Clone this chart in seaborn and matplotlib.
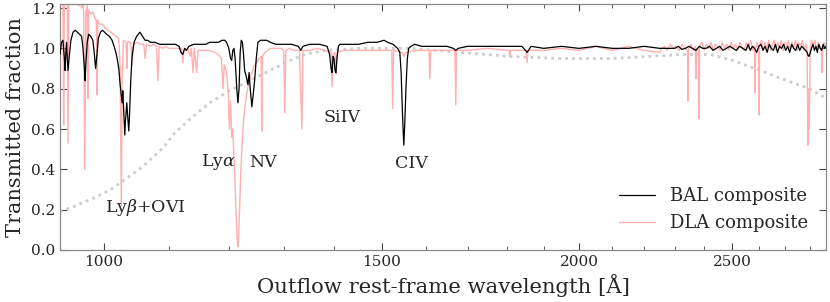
import numpy as np
import pandas as pd
import matplotlib
matplotlib.use("Agg")
import matplotlib.pyplot as plt
import matplotlib.ticker as mticker
import seaborn as sns

# ---------------- data ----------------
bal_wave = [938, 940, 942, 944, 945, 946, 947, 948, 949, 951, 953, 956, 959, 962, 965, 968,
            970, 972, 973, 974, 976, 978, 981, 984, 986, 988, 990, 992, 995, 998, 1001, 1004,
            1008, 1012, 1016, 1019, 1022, 1024, 1026, 1027, 1028, 1029, 1031, 1032, 1034, 1035,
            1037, 1038, 1040, 1042, 1045, 1049, 1054, 1058, 1062, 1066, 1070, 1077, 1085, 1095,
            1101, 1110, 1116, 1119, 1122, 1125, 1128, 1132, 1140, 1150, 1160, 1167, 1175, 1182,
            1188, 1193, 1196, 1200, 1203, 1205, 1207, 1209, 1211, 1214, 1216, 1218, 1220, 1222,
            1224, 1226, 1228, 1231, 1234, 1236, 1238, 1241, 1243, 1246, 1249, 1252, 1257, 1262,
            1268, 1275, 1285, 1293, 1302, 1315, 1328, 1333, 1337, 1350, 1370, 1385, 1390, 1393,
            1395, 1397, 1399, 1401, 1403, 1405, 1408, 1411, 1430, 1450, 1470, 1490, 1505, 1513,
            1525, 1535, 1540, 1543, 1545, 1547, 1549, 1551, 1554, 1557, 1560, 1565, 1574, 1590,
            1620, 1650, 1665, 1671, 1677, 1700, 1750, 1800, 1840, 1850, 1854, 1858, 1865, 1900,
            1950, 2000, 2050, 2100, 2150, 2200, 2250,
            2300, 2312, 2324, 2336, 2348, 2360, 2372, 2384, 2396, 2408, 2420, 2432, 2444, 2456,
            2468, 2480, 2492, 2504, 2516, 2528, 2540, 2552, 2560, 2568, 2576, 2584, 2592, 2600,
            2608, 2616, 2624, 2632, 2640, 2648, 2656, 2664, 2672, 2680, 2688, 2696, 2704, 2712,
            2720, 2728, 2736, 2744, 2752, 2760, 2768, 2776, 2784, 2790, 2794, 2798, 2802, 2808,
            2814, 2820, 2826, 2832, 2838, 2844, 2850, 2856, 2862, 2868]
bal_flux = [0.97, 1.03, 1.04, 0.95, 0.89, 0.98, 1.03, 0.95, 0.89, 0.97, 1.04, 1.08, 1.09, 1.08,
            1.07, 1.06, 1.00, 0.90, 0.84, 0.92, 1.03, 1.07, 1.06, 1.04, 0.98, 0.90, 0.97, 1.05,
            1.08, 1.09, 1.08, 1.07, 1.06, 1.04, 1.00, 0.96, 0.90, 0.82, 0.76, 0.73, 0.79, 0.72,
            0.57, 0.64, 0.73, 0.68, 0.59, 0.66, 0.84, 0.96, 1.03, 1.06, 1.08, 1.06, 1.04, 1.04,
            1.03, 1.03, 1.02, 1.02, 1.02, 1.02, 1.01, 0.98, 0.97, 1.00, 0.99, 1.01, 1.02, 1.02,
            1.02, 1.03, 1.03, 1.03, 1.04, 1.04, 1.03, 1.00, 0.95, 0.94, 0.99, 1.00, 0.95, 0.80,
            0.73, 0.80, 0.98, 1.04, 1.03, 0.97, 0.89, 0.86, 0.82, 0.88, 0.80, 0.71, 0.76, 0.84,
            0.95, 1.03, 1.04, 1.04, 1.04, 1.03, 1.02, 1.02, 1.02, 1.02, 1.01, 0.99, 1.01, 1.02,
            1.02, 1.01, 0.97, 0.90, 0.88, 0.96, 0.95, 0.89, 0.88, 0.95, 1.01, 1.02, 1.02, 1.02,
            1.03, 1.03, 1.04, 1.03, 1.02, 1.00, 0.98, 0.88, 0.74, 0.62, 0.52, 0.62, 0.81, 0.95,
            1.00, 1.01, 1.02, 1.01, 1.01, 1.01, 1.00, 0.99, 1.00, 1.01, 1.01, 1.01, 1.01, 0.99,
            0.98, 0.99, 1.01, 1.00, 1.01, 1.00, 1.01, 1.00, 1.00, 1.01, 1.00,
            1.00, 1.01, 0.995, 1.00, 1.01, 1.00, 0.99, 1.01, 1.00, 1.00, 1.01, 0.99, 1.00, 1.01,
            0.99, 1.00, 1.01, 1.00, 0.99, 1.01, 1.00, 0.99, 1.02, 0.99, 1.01, 1.00, 0.98, 1.01,
            1.02, 0.99, 1.01, 0.98, 1.02, 1.00, 0.99, 1.02, 0.98, 1.01, 1.00, 1.02, 0.99, 1.01,
            0.98, 1.02, 1.00, 0.99, 1.02, 0.99, 1.01, 1.00, 0.99, 0.98, 0.965, 0.96, 0.975, 1.00,
            1.02, 0.99, 1.01, 0.98, 1.02, 1.00, 0.99, 1.02, 1.00, 1.01]

dla_wave = [936, 938, 939, 940, 941, 942, 943, 944, 946, 948, 949, 950, 952, 954, 956, 958, 960,
            962, 964, 966, 968, 970, 971, 972.5, 974, 976, 977, 978, 981, 984, 987, 989, 990, 991,
            994, 998, 1002, 1006, 1010, 1014, 1018, 1022, 1024, 1025.7, 1027, 1029, 1033, 1034,
            1035, 1040, 1042, 1044, 1050, 1055, 1060, 1062, 1064, 1070, 1075, 1080, 1082, 1084,
            1090, 1095, 1100, 1110, 1120, 1122, 1124, 1130, 1134, 1136, 1139, 1141, 1145, 1147,
            1155, 1165, 1175, 1182, 1187, 1190, 1192, 1196, 1199, 1201, 1203, 1205, 1207, 1209,
            1211, 1213, 1215, 1216, 1217, 1219, 1221, 1223, 1226, 1229, 1232, 1236, 1240, 1245,
            1250, 1254, 1258, 1259, 1260, 1265, 1270, 1275, 1285, 1295, 1300, 1302, 1304, 1310,
            1320, 1330, 1335, 1337, 1350, 1365, 1380, 1393, 1395, 1397, 1401, 1403, 1405, 1420,
            1450, 1480, 1500, 1522, 1524, 1526, 1545, 1549, 1553, 1580, 1607, 1609, 1611, 1640,
            1669, 1671, 1673, 1700, 1750, 1806, 1808, 1810, 1852, 1854, 1857, 1900, 1950, 2000,
            2050, 2100, 2150, 2200, 2251, 2256, 2265, 2275, 2285, 2295, 2305, 2315, 2325, 2335,
            2343, 2345, 2347, 2355, 2363, 2370, 2372, 2374, 2381, 2383, 2385, 2393, 2401, 2409,
            2417, 2425, 2433, 2441, 2449, 2457, 2465, 2473, 2481, 2489, 2497, 2505, 2513, 2521,
            2529, 2537, 2545, 2553, 2561, 2569, 2577, 2584, 2586, 2588, 2594, 2599, 2601, 2603,
            2610, 2617, 2624, 2631, 2638, 2645, 2652, 2659, 2666, 2673, 2680, 2687, 2694, 2701,
            2708, 2715, 2722, 2729, 2736, 2743, 2750, 2757, 2764, 2771, 2778, 2785, 2790, 2793,
            2796, 2799, 2802, 2808, 2815, 2822, 2829, 2836, 2843, 2849, 2851, 2853, 2860, 2870]
dla_flux = [1.28, 1.35, 1.25, 1.32, 1.22, 1.30, 0.62, 1.25, 1.30, 1.28, 0.53, 1.24, 1.33, 1.26,
            1.30, 1.22, 1.28, 1.24, 1.21, 1.26, 1.20, 1.23, 1.18, 0.40, 1.18, 1.21, 0.75, 1.19,
            1.17, 1.18, 1.15, 1.14, 0.77, 1.14, 1.12, 1.12, 1.10, 1.09, 1.08, 1.07, 1.06, 1.05,
            0.90, 0.22, 0.85, 1.04, 1.03, 0.90, 1.03, 1.03, 0.92, 1.02, 1.03, 1.02, 1.02, 0.95,
            1.02, 1.01, 1.02, 1.01, 0.84, 1.01, 1.00, 1.01, 1.00, 1.00, 1.00, 0.93, 0.99, 1.00,
            0.96, 1.00, 0.88, 1.00, 0.88, 0.99, 0.99, 0.99, 0.98, 0.97, 0.95, 0.80, 0.92, 0.88,
            0.78, 0.60, 0.74, 0.56, 0.60, 0.45, 0.32, 0.16, 0.05, 0.015, 0.05, 0.20, 0.38, 0.50,
            0.64, 0.72, 0.78, 0.84, 0.87, 0.91, 0.93, 0.95, 0.96, 0.59, 0.96, 0.98, 0.99, 1.00,
            1.00, 1.00, 0.99, 0.68, 0.99, 1.00, 0.99, 0.99, 0.60, 0.99, 0.99, 1.00, 0.99, 0.98,
            0.81, 0.97, 0.98, 0.87, 0.98, 0.99, 0.99, 0.99, 0.99, 0.99, 0.70, 0.99, 0.98, 0.96,
            0.98, 0.99, 0.99, 0.85, 0.99, 0.99, 0.99, 0.72, 0.99, 0.99, 1.00, 0.99, 0.96, 0.99,
            0.99, 0.93, 0.99, 0.99, 1.00, 0.99, 1.01, 0.99, 1.01, 0.99, 0.98, 1.00, 1.01, 0.99,
            1.02, 1.00, 1.01, 0.99, 1.02, 1.00, 0.99, 0.74, 1.00, 1.02, 0.99, 1.01, 0.85, 1.00,
            0.99, 0.65, 1.01, 1.03, 0.99, 1.02, 1.00, 1.03, 0.99, 1.02, 1.01, 0.99, 1.03, 1.00,
            1.02, 0.99, 1.03, 1.00, 1.02, 0.99, 1.03, 1.01, 0.99, 1.03, 1.00, 1.04, 0.99, 1.01,
            0.78, 1.00, 1.03, 1.00, 0.67, 1.01, 1.04, 0.99, 1.03, 1.00, 1.04, 0.99, 1.02, 1.04,
            0.99, 1.03, 1.00, 1.04, 0.99, 1.03, 1.01, 1.04, 0.99, 1.03, 1.00, 1.04, 0.99, 1.03,
            1.01, 1.04, 0.99, 1.02, 0.99, 0.52, 0.80, 0.60, 0.99, 1.04, 1.01, 1.04, 0.99, 1.03,
            1.00, 0.99, 0.88, 1.00, 1.03, 1.00]

model_wave = [938, 960, 987, 1010, 1027, 1057, 1088, 1109, 1134, 1167, 1201, 1237, 1274, 1312,
              1341, 1380, 1453, 1563, 1681, 1808, 1945, 2092, 2164, 2328, 2421, 2504, 2605,
              2709, 2800, 2872]
model_flux = [0.19, 0.22, 0.26, 0.30, 0.34, 0.41, 0.50, 0.58, 0.65, 0.73, 0.79, 0.84, 0.89, 0.94,
              0.97, 0.99, 1.00, 1.00, 0.98, 0.96, 0.95, 0.95, 0.955, 0.97, 0.97, 0.94, 0.89,
              0.84, 0.80, 0.75]

line_labels = [r"Ly$\beta$+OVI", r"Ly$\alpha$", "NV", "SiIV", "CIV"]
label_wave = [1062, 1182, 1262, 1415, 1567]
label_y = [0.21, 0.435, 0.435, 0.655, 0.43]

x_major = [1000, 1500, 2000, 2500]
x_minor = [1100, 1200, 1300, 1400, 1600, 1700, 1800, 1900, 2100, 2200, 2300, 2400, 2600,
           2700, 2800]
y_ticks = [0.0, 0.2, 0.4, 0.6, 0.8, 1.0, 1.2]

# ---------------- style ----------------
sns.set_style("ticks")
plt.rcParams["font.family"] = ["DejaVu Serif"]
plt.rcParams["mathtext.fontset"] = "dejavuserif"
plt.rcParams["xtick.direction"] = "in"
plt.rcParams["ytick.direction"] = "in"

fig, ax = plt.subplots(figsize=(8.30, 3.02), dpi=100)
fig.subplots_adjust(left=0.0723, right=0.9952, top=0.9868, bottom=0.1722)

bal = pd.DataFrame({"wave": bal_wave, "flux": bal_flux})
dla = pd.DataFrame({"wave": dla_wave, "flux": dla_flux})
mod = pd.DataFrame({"wave": model_wave, "flux": model_flux})

sns.lineplot(data=mod, x="wave", y="flux", ax=ax, color="#cccccc", lw=2.0,
             linestyle=(0, (1, 1.5)), estimator=None, sort=False, zorder=1)
sns.lineplot(data=dla, x="wave", y="flux", ax=ax, color="#ffb0b0", lw=1.0,
             estimator=None, sort=False, label="DLA composite", zorder=2)
sns.lineplot(data=bal, x="wave", y="flux", ax=ax, color="black", lw=0.9,
             estimator=None, sort=False, label="BAL composite", zorder=3)

ax.set_xscale("log")
ax.set_xlim(938, 2868)
ax.set_ylim(0, 1.22)
ax.xaxis.set_major_locator(mticker.FixedLocator(x_major))
ax.xaxis.set_minor_locator(mticker.FixedLocator(x_minor))
ax.xaxis.set_major_formatter(mticker.FixedFormatter([str(v) for v in x_major]))
ax.xaxis.set_minor_formatter(mticker.NullFormatter())
ax.set_yticks(y_ticks)
ax.set_yticklabels([f"{v:.1f}" for v in y_ticks])
ax.tick_params(which="both", top=True, right=True, labelsize=11, color="#444444")
ax.tick_params(which="major", length=5, width=0.8)
ax.tick_params(which="minor", length=3, width=0.6)
for s in ax.spines.values():
    s.set_color("#888888")
    s.set_linewidth(0.9)

ax.set_xlabel("Outflow rest-frame wavelength [Å]", fontsize=15.2)
ax.set_ylabel("Transmitted fraction", fontsize=15)

for t, xw, yv in zip(line_labels, label_wave, label_y):
    ax.text(xw, yv, t, fontsize=12.5, ha="center", va="center")

handles, labels = ax.get_legend_handles_labels()
order = [labels.index("BAL composite"), labels.index("DLA composite")]
ax.legend([handles[i] for i in order], [labels[i] for i in order], loc="lower right",
          frameon=False, fontsize=13, handlelength=2.0, borderaxespad=0.6)

fig.savefig("out.png", dpi=100)
